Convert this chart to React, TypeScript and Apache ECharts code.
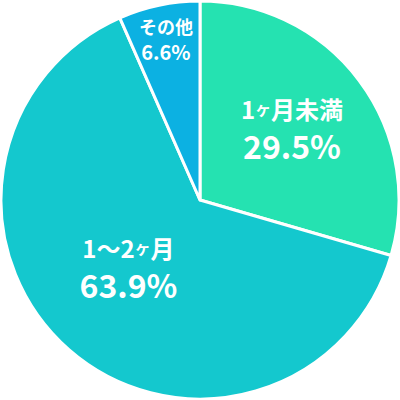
import React, { useEffect, useRef } from "react";
import * as echarts from "echarts";

const categories = ["1ヶ月未満", "1〜2ヶ月", "その他"];
const values = [29.5, 63.9, 6.6];
const colors = ["#25e2b1", "#14c8ce", "#0cb1e2"];

function richName(name: string, big: boolean) {
  const main = big ? "a" : "s";
  const small = big ? "k" : "ks";
  return name
    .split("ヶ")
    .map((p) => (p ? `{${main}|${p}}` : ""))
    .join(`{${small}|ヶ}`);
}

export default function App() {
  const ref = useRef<HTMLDivElement>(null);
  useEffect(() => {
    const chart = echarts.init(ref.current!, undefined, { renderer: "svg" });
    const offsets: [number, number][] = [
      [10, -11],
      [-4, -11],
      [-13, -61],
    ];
    const data = categories.map((c, i) => {
      const big = i < 2;
      return {
        name: c,
        value: values[i],
        itemStyle: { color: colors[i] },
        label: {
          offset: offsets[i],
          formatter: () =>
            richName(c, big) + "\n" + `{${big ? "b" : "p"}|${values[i].toFixed(1)}%}`,
        },
      };
    });
    const font = '"Noto Sans CJK JP", "Noto Sans", sans-serif';
    chart.setOption({
      animation: false,
      series: [
        {
          type: "pie",
          center: [200, 200],
          radius: [0, 199],
          startAngle: 90,
          clockwise: true,
          itemStyle: { borderColor: "#ffffff", borderWidth: 3 },
          label: {
            show: true,
            position: "inside",
            color: "#ffffff",
            fontFamily: font,
            fontWeight: "bold",
            rich: {
              a: { fontSize: 24, fontWeight: "bold", color: "#fff", fontFamily: font, lineHeight: 36 },
              k: { fontSize: 16, fontWeight: "bold", color: "#fff", fontFamily: font, lineHeight: 36 },
              b: { fontSize: 32, fontWeight: "bold", color: "#fff", fontFamily: font, lineHeight: 38 },
              s: { fontSize: 18, fontWeight: "bold", color: "#fff", fontFamily: font, lineHeight: 26 },
              ks: { fontSize: 13, fontWeight: "bold", color: "#fff", fontFamily: font, lineHeight: 26 },
              p: { fontSize: 20, fontWeight: "bold", color: "#fff", fontFamily: font, lineHeight: 26 },
            },
          },
          labelLine: { show: false },
          data,
        },
      ],
    });
    return () => chart.dispose();
  }, []);
  return (
    <div
      ref={ref}
      style={{ position: "fixed", left: 0, top: 0, width: 400, height: 400, background: "#fff" }}
    />
  );
}
